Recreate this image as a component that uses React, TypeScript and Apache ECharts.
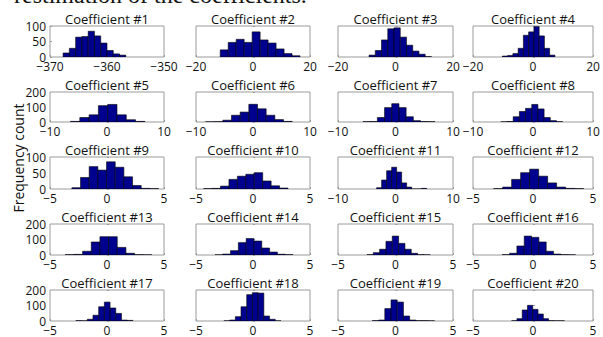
import React, { useEffect, useRef } from "react";
import * as echarts from "echarts";

// ---- data ----
const panelTitles = [
  "Coefficient #1", "Coefficient #2", "Coefficient #3", "Coefficient #4",
  "Coefficient #5", "Coefficient #6", "Coefficient #7", "Coefficient #8",
  "Coefficient #9", "Coefficient #10", "Coefficient #11", "Coefficient #12",
  "Coefficient #13", "Coefficient #14", "Coefficient #15", "Coefficient #16",
  "Coefficient #17", "Coefficient #18", "Coefficient #19", "Coefficient #20",
];
const xMins = [-370, -20, -20, -20, -10, -10, -10, -10, -5, -5, -10, -5, -5, -5, -5, -5, -5, -5, -5, -5];
const xMaxs = [-350, 20, 20, 20, 10, 10, 10, 10, 5, 5, 10, 5, 5, 5, 5, 5, 5, 5, 5, 5];
const xIntervals = [10, 20, 20, 20, 10, 10, 10, 10, 5, 5, 10, 5, 5, 5, 5, 5, 5, 5, 5, 5];
const rowYMax = [100, 200, 100, 200, 200];
const rowYInterval = [50, 100, 50, 100, 100];

const binStarts = [
  -367.7, -11.5, -9.2, -10.2,
  -6.4, -8.33, -5.65, -5.36,
  -3.08, -4.33, -3.28, -3.28,
  -3.66, -3.34, -2.48, -2.56,
  -2.73, -2.55, -2.01, -1.78,
];
const binWidths = [
  1.1, 2.8, 2.17, 1.75,
  1.63, 1.52, 1.25, 1.03,
  0.76, 0.74, 0.87, 0.75,
  0.76, 0.685, 0.55, 0.61,
  0.5, 0.5, 0.54, 0.44,
];
const binCounts = [
  [13, 28, 64, 66, 83, 68, 45, 21, 10, 6],
  [23, 47, 57, 47, 81, 55, 45, 26, 11, 4],
  [6, 21, 55, 91, 94, 64, 38, 19, 9, 1],
  [3, 5, 11, 28, 70, 81, 98, 68, 28, 6],
  [4, 30, 48, 109, 117, 48, 15, 4],
  [1, 2, 12, 45, 66, 118, 88, 45, 16, 4],
  [2, 3, 30, 96, 122, 96, 35, 9, 3, 2],
  [1, 3, 35, 70, 91, 117, 87, 30, 9, 2],
  [4, 36, 70, 59, 85, 68, 38, 11, 2, 1],
  [1, 2, 9, 30, 40, 46, 51, 25, 10, 3],
  [4, 28, 57, 68, 53, 19, 6, 0, 0, 2],
  [1, 6, 30, 51, 62, 40, 19, 6, 2, 1],
  [2, 4, 24, 84, 118, 118, 49, 11, 2, 1],
  [1, 6, 28, 80, 106, 90, 45, 19, 5, 2],
  [2, 15, 37, 88, 122, 75, 37, 11, 2, 1],
  [2, 11, 58, 122, 114, 84, 24, 6, 2, 1],
  [2, 1, 11, 37, 92, 122, 84, 49, 6, 4],
  [1, 6, 28, 92, 170, 183, 180, 32, 11, 1],
  [2, 6, 80, 136, 122, 32, 6, 2, 2, 1],
  [1, 15, 71, 101, 75, 45, 15, 2, 1, 1],
];

const yAxisName = "Frequency count";
const headerText = "restimation of the coefficients.";

// ---- layout ----
const colLeft = [50, 196, 338, 473];
const colRight = [164, 310, 453, 593];
const rowTop = [26, 92, 157, 224, 290];
const rowBottom = [57, 122, 189, 255, 321];

const FONT = "'Open Sans', 'Noto Sans', sans-serif";
const minusFmt = (v: number) => String(v).replace("-", "\u2212");

export default function App() {
  const ref = useRef<HTMLDivElement>(null);
  useEffect(() => {
    if (!ref.current) return;
    const chart = echarts.init(ref.current, undefined, { renderer: "svg" });
    const grids: any[] = [];
    const xAxes: any[] = [];
    const yAxes: any[] = [];
    const series: any[] = [];
    const graphics: any[] = [];

    for (let i = 0; i < 20; i++) {
      const r = Math.floor(i / 4);
      const c = i % 4;
      const left = colLeft[c];
      const top = rowTop[r];
      const width = colRight[c] - colLeft[c];
      const height = rowBottom[r] - rowTop[r];
      grids.push({
        left, top, width, height,
        show: true, borderColor: "#9a9a9a", borderWidth: 1, backgroundColor: "#fff",
        containLabel: false,
      });
      xAxes.push({
        gridIndex: i, type: "value",
        min: xMins[i], max: xMaxs[i], interval: xIntervals[i],
        axisLine: { show: false },
        axisTick: { show: true, inside: true, length: 2, lineStyle: { color: "#9a9a9a" } },
        splitLine: { show: false },
        axisLabel: {
          show: true, margin: 3, fontSize: 12, color: "#111", fontFamily: FONT,
          formatter: minusFmt,
        },
      });
      yAxes.push({
        gridIndex: i, type: "value",
        min: 0, max: rowYMax[r], interval: rowYInterval[r],
        axisLine: { show: false },
        axisTick: { show: true, inside: true, length: 2, lineStyle: { color: "#9a9a9a" } },
        splitLine: { show: false },
        axisLabel: {
          show: c === 0, margin: 4, fontSize: 12, color: "#111", fontFamily: FONT,
        },
      });
      const w = binWidths[i];
      const data = binCounts[i].map((cnt, k) => [binStarts[i] + (k + 0.5) * w, cnt]);
      series.push({
        type: "custom",
        xAxisIndex: i, yAxisIndex: i,
        data,
        clip: true,
        renderItem: (params: any, api: any) => {
          const x = api.value(0);
          const y = api.value(1);
          const p0 = api.coord([x - w / 2, y]);
          const p1 = api.coord([x + w / 2, 0]);
          return {
            type: "rect",
            shape: { x: p0[0], y: p0[1], width: p1[0] - p0[0], height: p1[1] - p0[1] },
            style: { fill: "#00008f", stroke: "#000", lineWidth: 0.6 },
          };
        },
      });
      graphics.push({
        type: "text",
        x: (colLeft[c] + colRight[c]) / 2,
        y: rowTop[r] - 7,
        style: {
          text: panelTitles[i], fill: "#111",
          font: `13px ${FONT}`, align: "center", verticalAlign: "middle",
        },
      });
    }

    graphics.push({
      type: "text",
      x: 18, y: 158, rotation: Math.PI / 2,
      style: {
        text: yAxisName, fill: "#111", font: `14px ${FONT}`,
        align: "center", verticalAlign: "middle",
      },
    });
    graphics.push({
      type: "text",
      x: 14, y: 7,
      style: {
        text: headerText, fill: "#111", font: "24px 'Liberation Serif', serif",
        align: "left", verticalAlign: "bottom",
      },
    });

    chart.setOption({
      animation: false,
      backgroundColor: "#fff",
      grid: grids,
      xAxis: xAxes,
      yAxis: yAxes,
      series,
      graphic: graphics,
    });
    return () => chart.dispose();
  }, []);
  return (
    <div
      ref={ref}
      style={{ position: "absolute", left: 0, top: 0, width: 603, height: 337 }}
    />
  );
}
